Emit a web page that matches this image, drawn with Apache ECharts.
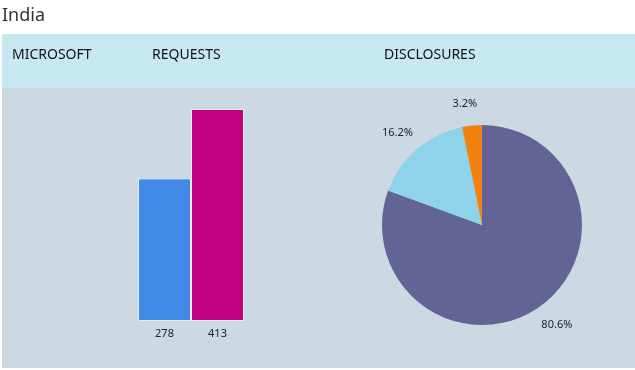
<!DOCTYPE html>
<html><head><meta charset="utf-8">
<script src="https://cdn.jsdelivr.net/npm/echarts@6/dist/echarts.min.js"></script>
<style>html,body{margin:0;padding:0;background:#fff}#c{width:635px;height:370px}</style>
</head><body><div id="c"></div>
<script>
const titleText = 'India';
const headers = ['MICROSOFT', 'REQUESTS', 'DISCLOSURES'];
const barLabels = ['278', '413'];
const barValues = [278, 413];
const barColors = ['#428ae8', '#c0007f'];
const pieNames = ['Disclosed content', 'Disclosed non-content', 'Rejected'];
const pieValues = [80.6, 16.2, 3.2];
const pieColors = ['#636496', '#8fd3ea', '#f0820f'];

const FONT = '"Noto Sans", "Open Sans", sans-serif';
const chart = echarts.init(document.getElementById('c'), null, {renderer: 'canvas'});
const headerX = [12, 152, 384];
chart.setOption({
  animation: false,
  backgroundColor: '#ffffff',
  title: {text: titleText, left: -3, top: 2,
    textStyle: {fontFamily: FONT, fontSize: 18, fontWeight: 'normal', color: '#333'}},
  graphic: [
    {type: 'rect', z: -10, shape: {x: 2, y: 34, width: 633, height: 54}, style: {fill: '#c7e7f1'}},
    {type: 'rect', z: -10, shape: {x: 2, y: 88, width: 633, height: 280}, style: {fill: '#cdd9e2'}},
    ...headers.map((h, i) => ({type: 'text', z: 5, left: headerX[i], top: 48,
      style: {text: h, fontFamily: FONT, fontSize: 14, fill: '#111'}}))
  ],
  grid: {left: 138, width: 106, top: 109, bottom: 49},
  xAxis: {type: 'category', data: barLabels,
    axisLine: {show: false}, axisTick: {show: false},
    axisLabel: {margin: 7, fontFamily: FONT, fontSize: 11, color: '#222'}},
  yAxis: {type: 'value', min: 0, max: 413, show: false, splitLine: {show: false}},
  series: [
    {type: 'bar', barCategoryGap: 0,
      data: barValues.map((v, i) => ({value: v, itemStyle: {color: barColors[i]}})),
      itemStyle: {borderColor: '#e8eef4', borderWidth: 1}},
    {type: 'pie', center: [482, 225], radius: 100, startAngle: 90, clockwise: true,
      data: pieValues.map((v, i) => ({name: pieNames[i], value: v, itemStyle: {color: pieColors[i]}})),
      label: {show: true, position: 'outside', formatter: p => p.value.toFixed(1) + '%',
        fontFamily: FONT, fontSize: 11, color: '#222'},
      labelLine: {show: false, length: 22, length2: 0},
      labelLayout: p => {
        const cx = p.labelRect.x + p.labelRect.width / 2;
        return {dx: (cx > 482 ? -1 : 1) * p.labelRect.width / 2};
      },
      itemStyle: {borderWidth: 0}}
  ]
});
</script></body></html>
